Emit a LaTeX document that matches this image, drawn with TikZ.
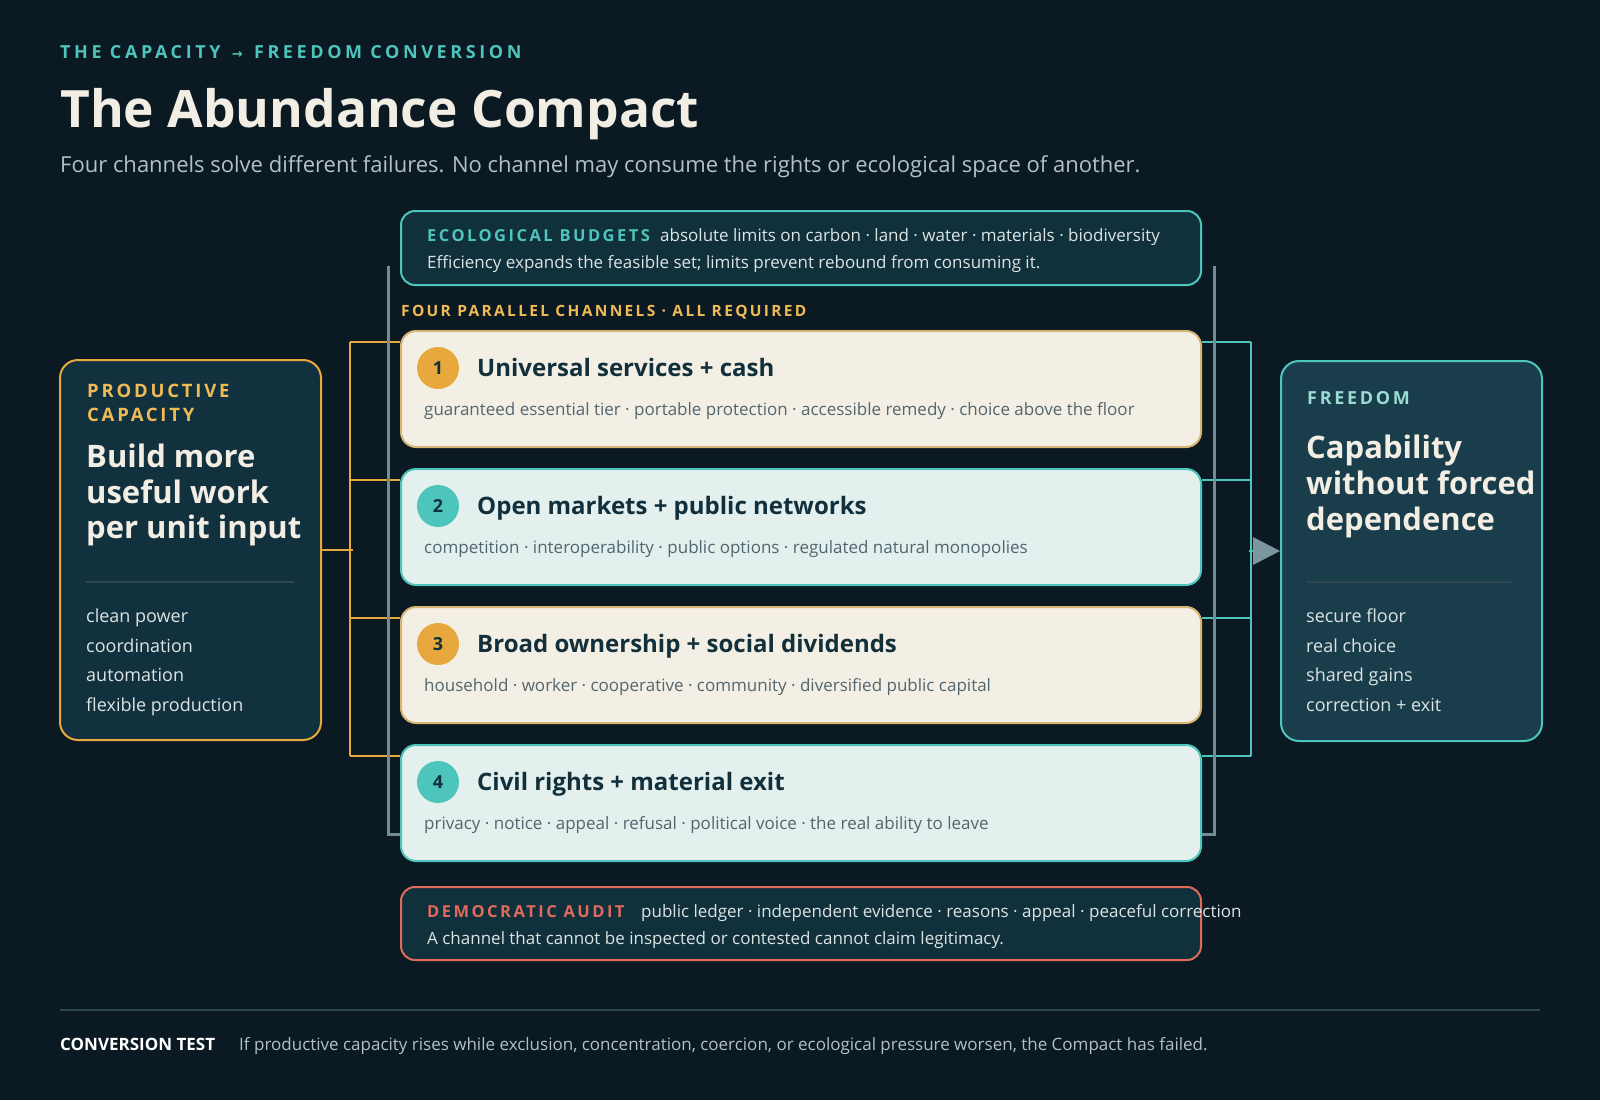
\documentclass[tikz,border=0pt]{standalone}
\usepackage{fontspec}
\setmainfont{Open Sans}
\newfontfamily\trackfont[LetterSpace=15]{Open Sans}
\newfontfamily\arrowfont{DejaVu Sans}
\usetikzlibrary{calc}

\newcommand\fsz[1]{\fontsize{#1}{#1}\selectfont}

\definecolor{bgcol}{HTML}{0A1922}
\definecolor{panel}{HTML}{10303C}
\definecolor{prodfill}{HTML}{12313E}
\definecolor{freefill}{HTML}{1A3D4C}
\definecolor{amber}{HTML}{E7A83D}
\definecolor{teal}{HTML}{4EC5BC}
\definecolor{tan}{HTML}{D6B474}
\definecolor{cream}{HTML}{F4EFE4}
\definecolor{mint}{HTML}{E3F0EE}
\definecolor{ink}{HTML}{12303C}
\definecolor{subink}{HTML}{52666F}
\definecolor{coral}{HTML}{E06B5D}
\definecolor{bracketgray}{HTML}{728C95}
\definecolor{arrowgray}{HTML}{7B969E}
\definecolor{paper}{HTML}{F3EEE4}
\definecolor{mist}{HTML}{B3C1C7}
\definecolor{listcol}{HTML}{DCE4E4}
\definecolor{paleteal}{HTML}{9ADBD3}
\definecolor{gold}{HTML}{F0BA55}
\definecolor{rulecol}{HTML}{2C4752}

\begin{document}
\begin{tikzpicture}[x=1pt,y=-1pt,
    every node/.style={inner sep=0},
    txt/.style={anchor=base west},
    caps/.style={txt, font=\trackfont\bfseries\fsz{#1}},
    panelbox/.style={rectangle, rounded corners=14, line width=2, fill=panel,
        minimum width=800, anchor=north west},
    sidebox/.style={rectangle, rounded corners=18, line width=2,
        minimum width=261, minimum height=380, anchor=north west},
    chanbox/.style={rectangle, rounded corners=15, line width=2,
        minimum width=800, minimum height=116, anchor=north west},
    badge/.style={circle, minimum size=42, text=ink, font=\bfseries\fsz{18}},
    chanhead/.style={txt, font=\bfseries\fsz{24}, text=ink},
    chansub/.style={txt, font=\fsz{17}, text=subink},
    bigline/.style={txt, font=\bfseries\fsz{31}, text=paper},
    listline/.style={txt, font=\fsz{18}, text=listcol},
    body/.style={txt, font=\fsz{17}, text=listcol},
    obus/.style={amber, line width=2.5},
    tbus/.style={teal, line width=2.5},
    bracket/.style={bracketgray, line width=3}]

\fill[bgcol] (0,0) rectangle (1600,1100);

% heading
\node[caps=18, text=teal] (kicker) at (60,58)
    {\addfontfeature{LetterSpace=20}THE CAPACITY\, {\arrowfont\fsz{13}→}\, FREEDOM CONVERSION};
\node[txt, font=\bfseries\fsz{51.5}, text=paper] (title) at (60,127) {The Abundance Compact};
\node[txt, font=\fsz{22}, text=mist] (subtitle) at (60,172)
    {Four channels solve different failures. No channel may consume the rights or ecological space of another.};

% ecological budgets
\node[panelbox, draw=teal, minimum height=74] (eco) at (400,210) {};
\node[caps=16.5, text=teal] (ecolbl) at (427,241) {ECOLOGICAL BUDGETS};
\node[body] (ecotxt) at (660,241)
    {absolute limits on carbon · land · water · materials · biodiversity};
\node[body] (econote) at (427,268)
    {Efficiency expands the feasible set; limits prevent rebound from consuming it.};

\node[caps=15.5, text=gold] (chanlbl) at (401,316) {FOUR PARALLEL CHANNELS · ALL REQUIRED};

% four channels
\foreach \i/\y/\fillc/\edge/\dot/\head/\tail in {
    1/330/cream/tan/amber/{Universal services + cash}/{guaranteed essential tier · portable protection · accessible remedy · choice above the floor},
    2/468/mint/teal/teal/{Open markets + public networks}/{competition · interoperability · public options · regulated natural monopolies},
    3/606/cream/tan/amber/{Broad ownership + social dividends}/{household · worker · cooperative · community · diversified public capital},
    4/744/mint/teal/teal/{Civil rights + material exit}/{privacy · notice · appeal · refusal · political voice · the real ability to leave}}
{
    \node[chanbox, fill=\fillc, draw=\edge] (ch\i) at (400,\y) {};
    \node[badge, fill=\dot] (num\i) at ($(ch\i.north west)+(38,38)$) {\i};
    \node[chanhead] (head\i) at ($(ch\i.north west)+(77,46)$) {\head};
    \node[chansub] (sub\i) at ($(ch\i.north west)+(24,85)$) {\tail};
}

% productive capacity
\node[sidebox, fill=prodfill, draw=amber] (prod) at (59,359) {};
\node[caps=18.5, text=gold] (prodlbl1) at (87,397) {PRODUCTIVE};
\node[caps=18.5, text=gold] (prodlbl2) at (87,421) {CAPACITY};
\node[bigline] (prodbig1) at (86,467) {Build more};
\node[bigline] (prodbig2) at (86,503) {useful work};
\node[bigline] (prodbig3) at (86,538) {per unit input};
\draw[rulecol, line width=1.5] (86,582) -- (294,582);
\foreach \t [count=\k] in {clean power, coordination, automation, flexible production}
    \node[listline] (prodlist\k) at (86,593+29.5*\k) {\t};

% freedom
\node[sidebox, fill=freefill, draw=teal] (free) at (1280,360) {};
\node[caps=18, text=paleteal] (freelbl) at (1307,404) {FREEDOM};
\node[bigline] (freebig1) at (1306,458) {Capability};
\node[bigline] (freebig2) at (1306,494) {without forced};
\node[bigline] (freebig3) at (1306,530) {dependence};
\draw[rulecol, line width=1.5] (1306,582) -- (1513,582);
\foreach \t [count=\k] in {secure floor, real choice, shared gains, correction + exit}
    \node[listline] (freelist\k) at (1306,593+29.5*\k) {\t};

% feeds and bracket
\draw[obus] (prod.east) -- ++(31,0);
\draw[obus] ($(ch1.north west)+(-50,12)$) -- ($(ch4.north west)+(-50,12)$);
\foreach \i in {1,...,4}
    \draw[obus] ($(ch\i.north west)+(0,12)$) -- ++(-50,0);
\draw[tbus] ($(ch1.north east)+(49,12)$) -- ($(ch4.north east)+(49,12)$);
\foreach \i in {1,...,4}
    \draw[tbus] ($(ch\i.north east)+(0,12)$) -- ++(49,0);
\draw[tbus] ($(free.west)+(-31,0)$) -- ++(4,0);
\fill[arrowgray] ($(free.west)+(-27,-14)$) -- (free.west) -- ($(free.west)+(-27,14)$) -- cycle;
\draw[bracket] ($(ch4.south west)+(0,-28)$) -- ++(-12,0) -- ($(eco.south west)+(-12,-20)$);
\draw[bracket] ($(ch4.south east)+(0,-28)$) -- ++(12,0) -- ($(eco.south east)+(12,-20)$);

% democratic audit
\node[panelbox, draw=coral, minimum height=73] (audit) at (400,886) {};
\node[caps=16.5, text=coral] (auditlbl) at (427,917) {DEMOCRATIC AUDIT};
\node[body] (audittxt) at (641,917)
    {public ledger · independent evidence · reasons · appeal · peaceful correction};
\node[body] (auditnote) at (427,944)
    {A channel that cannot be inspected or contested cannot claim legitimacy.};

% conversion test
\draw[rulecol, line width=1.5] (60,1010) -- (1540,1010);
\node[txt, font=\bfseries\fsz{17}, text=white] (testlbl) at (60,1050) {CONVERSION TEST};
\node[txt, font=\fsz{17}, text=mist] (testtxt) at (239,1050)
    {If productive capacity rises while exclusion, concentration, coercion, or ecological pressure worsen, the Compact has failed.};
\end{tikzpicture}
\end{document}
